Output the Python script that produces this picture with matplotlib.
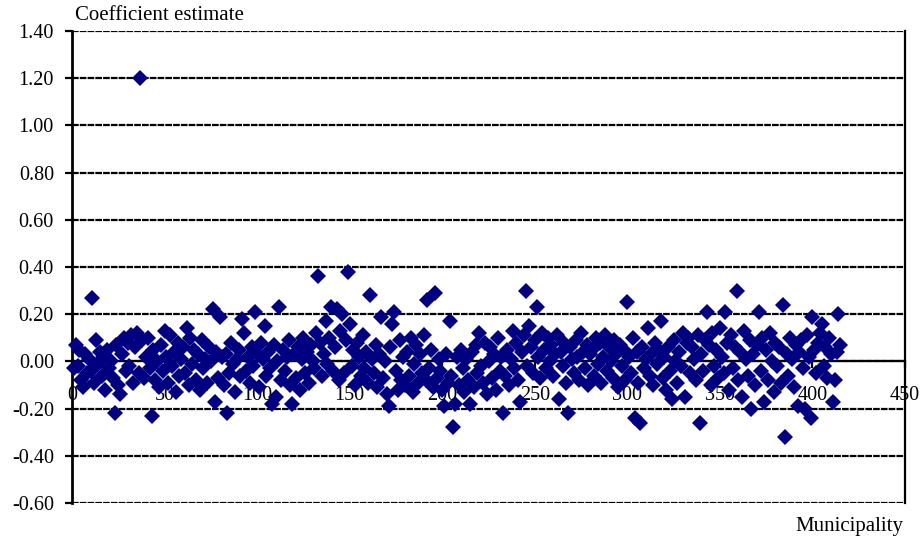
import numpy as np
import matplotlib.pyplot as plt

plt.rcParams['font.family'] = ['Liberation Serif', 'DejaVu Serif']
plt.rcParams['axes.unicode_minus'] = False

# --- DATA (one value per municipality) ---
coef = [
    -0.03, 0.07, -0.02, 0.05, -0.08, -0.11, 0.03, -0.05, 0.01, -0.04,
    0.27, -0.09, 0.09, -0.01, 0.04, -0.06, 0.02, -0.12, 0.05, -0.03,
    0.00, -0.07, -0.22, 0.07, -0.10, -0.14, 0.03, 0.10, -0.04, 0.08,
    -0.02, 0.11, -0.09, 0.06, 0.12, -0.05, 1.20, 0.09, -0.07, 0.02,
    0.10, -0.03, -0.23, 0.05, -0.08, 0.00, -0.11, 0.07, -0.04, 0.13,
    0.02, -0.09, 0.11, -0.02, 0.04, -0.13, 0.08, -0.06, 0.01, 0.06,
    -0.05, 0.14, -0.10, 0.10, -0.01, 0.05, -0.08, 0.03, -0.12, 0.09,
    -0.03, 0.01, -0.09, 0.06, 0.00, 0.22, -0.17, 0.04, -0.07, 0.19,
    0.02, -0.10, 0.03, -0.22, -0.05, 0.08, -0.01, -0.13, 0.01, 0.05,
    -0.06, 0.18, 0.12, -0.04, 0.02, -0.09, 0.06, -0.02, 0.21, 0.03,
    -0.11, 0.08, 0.01, 0.15, -0.06, 0.04, -0.03, -0.18, 0.07, -0.15,
    0.00, 0.23, -0.08, 0.05, -0.04, 0.02, 0.09, -0.10, -0.18, 0.03,
    -0.07, 0.06, -0.12, 0.01, 0.10, -0.05, 0.04, -0.09, 0.07, 0.00,
    -0.03, 0.12, 0.36, 0.08, -0.06, 0.03, 0.17, -0.01, 0.10, 0.23,
    -0.04, 0.06, 0.22, -0.08, 0.13, 0.20, -0.05, 0.09, 0.38, 0.16,
    -0.02, 0.05, -0.10, 0.08, 0.02, -0.06, 0.11, -0.03, 0.04, -0.09,
    0.28, 0.01, -0.05, 0.07, -0.11, 0.03, 0.19, -0.07, 0.00, -0.14,
    -0.19, 0.06, 0.16, 0.21, -0.04, -0.12, 0.09, -0.08, 0.02, -0.10,
    0.04, -0.06, 0.10, -0.13, -0.01, 0.07, -0.09, 0.03, -0.05, 0.11,
    -0.08, 0.26, -0.03, 0.05, -0.11, 0.29, -0.07, 0.01, -0.04, -0.12,
    -0.19, 0.03, -0.09, 0.17, -0.06, -0.28, -0.18, 0.02, -0.10, 0.05,
    -0.03, -0.13, 0.01, -0.08, -0.18, 0.04, -0.11, 0.07, -0.05, 0.12,
    -0.02, -0.09, 0.08, -0.14, 0.00, 0.06, -0.07, 0.03, -0.12, 0.10,
    -0.04, 0.02, -0.22, -0.06, 0.05, -0.10, 0.01, 0.13, -0.03, 0.08,
    -0.08, -0.17, 0.04, 0.11, 0.30, -0.02, 0.15, 0.06, -0.05, 0.09,
    0.23, 0.02, -0.07, 0.12, 0.05, -0.03, 0.10, 0.00, 0.07, -0.06,
    0.03, 0.11, -0.16, 0.04, -0.02, 0.08, -0.09, -0.22, 0.06, 0.01,
    -0.05, 0.09, 0.02, -0.08, 0.12, 0.04, -0.03, 0.07, -0.10, 0.03,
    0.05, -0.06, 0.10, -0.01, 0.08, -0.09, 0.02, 0.11, -0.04, 0.06,
    0.00, -0.07, 0.09, 0.03, -0.11, 0.07, -0.02, 0.05, -0.08, 0.25,
    0.02, -0.05, 0.10, -0.24, 0.04, -0.09, -0.26, 0.06, -0.03, 0.01,
    0.14, -0.06, 0.03, -0.10, 0.08, -0.01, 0.05, 0.17, -0.07, 0.02,
    -0.12, 0.06, -0.04, -0.16, 0.09, 0.00, -0.09, 0.04, -0.02, 0.12,
    -0.15, 0.08, 0.10, -0.05, 0.06, 0.01, -0.08, 0.11, -0.26, 0.03,
    -0.04, 0.09, 0.21, 0.07, -0.10, 0.12, -0.02, 0.05, -0.07, 0.14,
    0.02, -0.05, 0.21, 0.08, -0.12, 0.11, -0.03, 0.06, 0.30, -0.08,
    0.04, -0.15, 0.13, 0.01, -0.06, 0.09, -0.20, 0.03, -0.10, 0.07,
    0.21, -0.04, 0.10, -0.17, 0.05, -0.08, 0.12, 0.00, -0.13, 0.08,
    -0.02, 0.06, -0.09, 0.24, -0.32, 0.03, -0.06, 0.10, 0.01, -0.11,
    0.07, -0.19, 0.04, 0.09, -0.03, -0.20, 0.11, 0.02, -0.24, 0.19,
    0.05, -0.05, 0.08, 0.12, 0.16, -0.02, 0.06, -0.07, 0.10, 0.03,
    -0.17, -0.08, 0.04, 0.20, 0.07,
]
municipality = np.arange(1, len(coef) + 1)

x_ticks = [0, 50, 100, 150, 200, 250, 300, 350, 400, 450]
y_ticks = [-0.6, -0.4, -0.2, 0.0, 0.2, 0.4, 0.6, 0.8, 1.0, 1.2, 1.4]

fig = plt.figure(figsize=(9.23, 5.41), dpi=100)
ax = fig.add_axes([72 / 923, 38 / 541, 833 / 923, 472 / 541])

ax.plot(municipality, coef, linestyle='none', marker='D', markersize=7.8,
        markeredgewidth=0, color='#000080', zorder=5, clip_on=False)

ax.set_xlim(0, 450)
ax.set_ylim(-0.6, 1.4)
ax.set_xticks(x_ticks)
ax.set_yticks(y_ticks)
ax.set_yticklabels([f'{v:.2f}' for v in y_ticks])

# dashed horizontal grid
ax.yaxis.grid(True, color='black', linestyle=(0, (3, 0.5)), linewidth=1.6)
ax.set_axisbelow(True)

# x axis sits on the zero line
ax.spines['bottom'].set_position(('data', 0))
ax.spines['bottom'].set_linewidth(1.6)
ax.spines['bottom'].set_zorder(3)
ax.spines['top'].set_visible(False)
ax.spines['left'].set_linewidth(2)
ax.spines['right'].set_linewidth(1.6)

ax.tick_params(axis='x', direction='out', length=5, width=1.6, pad=13,
               labelsize=14.5)
ax.tick_params(axis='y', direction='out', length=5, width=1.6, pad=8,
               labelsize=14.5)

fig.text(75 / 923, 1 - 16 / 541, 'Coefficient estimate', fontsize=15,
         ha='left', va='center')
fig.text(903 / 923, 1 - 527 / 541, 'Municipality', fontsize=15,
         ha='right', va='center')

fig.savefig('out.png', dpi=100)
